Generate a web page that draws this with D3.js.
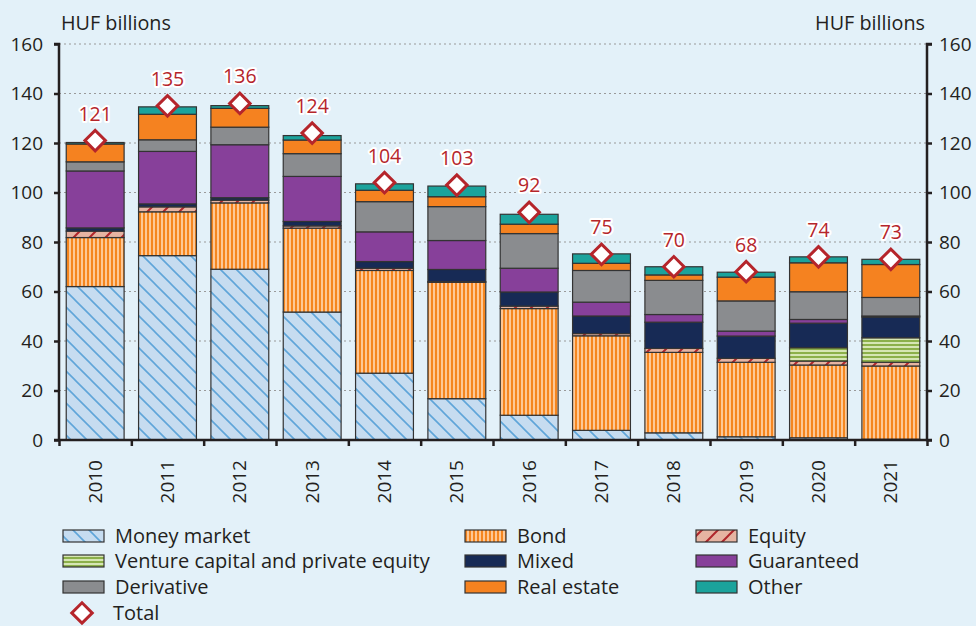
<!DOCTYPE html>
<html>

<head>
    <meta charset="utf-8" />
    <title>Investment funds by type</title>
    <script src="https://cdn.jsdelivr.net/npm/d3@7"></script>

    <style type="text/css">
        body {
            margin: 0;
            background: #e3f1f9;
        }

        #chart svg {
            background: #e3f1f9;
            font-family: "Open Sans", Lato, sans-serif;
        }

        #chart text {
            fill: #231f20;
        }

        #chart .grid line {
            stroke: #9a9a9a;
            stroke-width: 1.2px;
            stroke-dasharray: 2, 3;
        }

        #chart .seg {
            stroke: #333;
            stroke-width: 1.2px;
        }

        #chart .total-label {
            fill: #b5252b;
            stroke: #fff;
            stroke-width: 4px;
            paint-order: stroke;
            stroke-linejoin: round;
        }
    </style>
</head>

<body>

    <div id="chart"></div>

    <script>
        // Data (HUF billions):
        var years = ["2010", "2011", "2012", "2013", "2014", "2015", "2016", "2017", "2018", "2019", "2020", "2021"]

        var moneyMarket = [62, 74.5, 69, 51.7, 27, 16.7, 10, 3.9, 2.9, 1.3, 0.9, 0.3]
        var bond = [19.8, 17.7, 26.8, 33.9, 41.5, 47, 43.1, 38.2, 32.5, 30.1, 29.4, 29.6]
        var equity = [2.6, 2, 1.1, 0.9, 0.9, 0.3, 1, 0.9, 1.6, 1.6, 1.6, 1.5]
        var ventureCapital = [0, 0, 0, 0, 0, 0, 0, 0, 0, 0, 5.4, 9.9]
        var mixed = [1.3, 1.2, 1, 1.8, 2.7, 4.9, 5.7, 7.1, 10.6, 9, 9.9, 8.4]
        var guaranteed = [23, 21.2, 21.4, 18.2, 12, 11.7, 9.6, 5.6, 3.1, 2, 1.5, 0.4]
        var derivative = [3.7, 4.7, 7.1, 9.2, 12.2, 13.7, 14, 12.8, 13.8, 12.2, 11.2, 7.5]
        var realEstate = [7.2, 10.3, 7.6, 5.5, 4.6, 4, 3.8, 2.9, 2.2, 9.6, 11.7, 13.3]
        var other = [0.6, 3, 1.1, 1.8, 2.6, 4.3, 4, 3.8, 3.3, 2, 2.4, 2.1]

        var totals = [121, 135, 136, 124, 104, 103, 92, 75, 70, 68, 74, 73]

        var yTicks = [0, 20, 40, 60, 80, 100, 120, 140, 160]

        var series = [
            { key: "Money market", values: moneyMarket, fill: "url(#pat-mm)" },
            { key: "Venture capital and private equity", values: ventureCapital, fill: "url(#pat-vc)" },
            { key: "Derivative", values: derivative, fill: "#8a8c8f" },
            { key: "Bond", values: bond, fill: "url(#pat-bond)" },
            { key: "Mixed", values: mixed, fill: "#172a55" },
            { key: "Real estate", values: realEstate, fill: "#f58220" },
            { key: "Equity", values: equity, fill: "url(#pat-eq)" },
            { key: "Guaranteed", values: guaranteed, fill: "#87409a" },
            { key: "Other", values: other, fill: "#1ba39c" }
        ]

        // stacking order, bottom to top
        var stackOrder = ["Money market", "Bond", "Equity", "Venture capital and private equity",
            "Mixed", "Guaranteed", "Derivative", "Real estate", "Other"]

        // Dimensions:
        var W = 976, H = 626
        var margin = { top: 44, right: 49, bottom: 186, left: 59 }
        var width = W - margin.left - margin.right
        var height = H - margin.top - margin.bottom

        // Scales:
        var xScale = d3.scaleBand()
            .domain(years)
            .range([0, width])
            .paddingInner(0.2)
            .paddingOuter(0.1)

        var xEdges = d3.scaleLinear()
            .domain([0, years.length])
            .range([0, width])

        var yScale = d3.scaleLinear()
            .domain([0, 160])
            .range([height, 0])

        // Table for stacking:
        var table = years.map(function(y, i) {
            var row = { year: y, total: totals[i] }
            series.forEach(function(s) { row[s.key] = s.values[i] })
            return row
        })

        var stacked = d3.stack().keys(stackOrder)(table)
        var fillOf = {}
        series.forEach(function(s) { fillOf[s.key] = s.fill })

        // Create chart:
        var svg = d3.select("#chart")
            .append("svg")
            .attr("width", W)
            .attr("height", H)

        // Patterns:
        var defs = svg.append("defs")

        var pm = defs.append("pattern").attr("id", "pat-mm")
            .attr("patternUnits", "userSpaceOnUse").attr("width", 16).attr("height", 16)
        pm.append("rect").attr("width", 16).attr("height", 16).attr("fill", "#c6dcf0")
        pm.append("path").attr("d", "M0,0L16,16M-4,12L4,20M12,-4L20,4")
            .attr("stroke", "#5fa5d9").attr("stroke-width", 1.6)

        var pb = defs.append("pattern").attr("id", "pat-bond")
            .attr("patternUnits", "userSpaceOnUse").attr("width", 4).attr("height", 4)
        pb.append("rect").attr("width", 4).attr("height", 4).attr("fill", "#fdc896")
        pb.append("rect").attr("width", 2).attr("height", 4).attr("fill", "#f5861f")

        var pe = defs.append("pattern").attr("id", "pat-eq")
            .attr("patternUnits", "userSpaceOnUse").attr("width", 16).attr("height", 16)
        pe.append("rect").attr("width", 16).attr("height", 16).attr("fill", "#e6b4a2")
        pe.append("path").attr("d", "M0,16L16,0M-4,4L4,-4M12,20L20,12")
            .attr("stroke", "#b0262b").attr("stroke-width", 2)

        var pv = defs.append("pattern").attr("id", "pat-vc")
            .attr("patternUnits", "userSpaceOnUse").attr("width", 4).attr("height", 4)
        pv.append("rect").attr("width", 4).attr("height", 4).attr("fill", "#d6e6b4")
        pv.append("rect").attr("width", 4).attr("height", 2).attr("fill", "#8cb04a")

        var chart = svg.append("g")
            .attr("transform", "translate(" + margin.left + "," + margin.top + ")")

        // Gridlines:
        chart.append("g")
            .attr("class", "grid")
            .selectAll("line")
            .data(yTicks.filter(function(t) { return t > 0 }))
            .enter().append("line")
            .attr("x1", 0)
            .attr("x2", width)
            .attr("y1", function(d) { return yScale(d) })
            .attr("y2", function(d) { return yScale(d) })

        // Bars:
        chart.append("g")
            .selectAll("g")
            .data(stacked)
            .enter().append("g")
            .attr("fill", function(d) { return fillOf[d.key] })
            .selectAll("rect")
            .data(function(d) { return d.filter(function(p) { return p[1] - p[0] > 0 }) })
            .enter().append("rect")
            .attr("class", "seg")
            .attr("x", function(d) { return xScale(d.data.year) })
            .attr("width", xScale.bandwidth())
            .attr("y", function(d) { return yScale(d[1]) })
            .attr("height", function(d) { return yScale(d[0]) - yScale(d[1]) })

        // Axes:
        var leftAxis = chart.append("g")
            .call(d3.axisLeft(yScale).tickValues(yTicks).tickSize(5).tickPadding(11))
        var rightAxis = chart.append("g")
            .attr("transform", "translate(" + width + ",0)")
            .call(d3.axisRight(yScale).tickValues(yTicks).tickSize(5).tickPadding(7))
        var bottomAxis = chart.append("g")
            .attr("transform", "translate(0," + height + ")")
            .call(d3.axisBottom(xEdges).tickValues(d3.range(0, years.length + 1)).tickSize(6).tickFormat(""))

        ;[leftAxis, rightAxis, bottomAxis].forEach(function(a) {
            a.select(".domain").attr("stroke", "#231f20").attr("stroke-width", 2.5)
            a.selectAll(".tick line").attr("stroke", "#231f20").attr("stroke-width", 2.5)
            a.selectAll("text").attr("font-size", 19).attr("font-family", "'Open Sans', sans-serif").attr("fill", "#231f20")
        })
        leftAxis.select(".domain").attr("d", "M-5," + height + "H0V0H-5")
        rightAxis.select(".domain").attr("d", "M5," + height + "H0V0H5")
        bottomAxis.select(".domain").attr("d", "M0,0H" + width)

        // Year labels:
        chart.append("g")
            .selectAll("text")
            .data(years)
            .enter().append("text")
            .attr("transform", function(d) {
                return "translate(" + (xScale(d) + xScale.bandwidth() / 2) + "," + (height + 20) + ") rotate(-90)"
            })
            .attr("text-anchor", "end")
            .attr("dy", "0.35em")
            .attr("font-size", 19)
            .text(function(d) { return d })

        // Unit labels:
        svg.append("text").attr("x", 61).attr("y", 30).attr("font-size", 19.8).text("HUF billions")
        svg.append("text").attr("x", 925).attr("y", 30).attr("font-size", 19.8)
            .attr("text-anchor", "end").text("HUF billions")

        // Totals:
        var diamond = d3.symbol().type(d3.symbolSquare).size(210)
        chart.append("g")
            .selectAll("path")
            .data(table)
            .enter().append("path")
            .attr("d", diamond)
            .attr("transform", function(d) {
                return "translate(" + (xScale(d.year) + xScale.bandwidth() / 2) + "," + yScale(d.total) + ") rotate(45)"
            })
            .attr("fill", "#fff")
            .attr("stroke", "#b5252b")
            .attr("stroke-width", 3)

        chart.append("g")
            .selectAll("text")
            .data(table)
            .enter().append("text")
            .attr("class", "total-label")
            .attr("x", function(d) { return xScale(d.year) + xScale.bandwidth() / 2 })
            .attr("y", function(d) { return yScale(d.total) - 20 })
            .attr("text-anchor", "middle")
            .attr("font-size", 19.5)
            .text(function(d) { return d.total })

        // Legend:
        var legendCols = [63, 465, 696]
        var legendRows = [536, 561, 587]
        var legend = svg.append("g")
        series.forEach(function(s, i) {
            var col = Math.floor(i / 3), row = i % 3
            var g = legend.append("g")
                .attr("transform", "translate(" + legendCols[col] + "," + legendRows[row] + ")")
            g.append("rect")
                .attr("class", "seg")
                .attr("x", 0).attr("y", -6)
                .attr("width", 41).attr("height", 12)
                .attr("fill", s.fill)
            g.append("text")
                .attr("x", 52).attr("dy", "0.35em")
                .attr("font-size", 20)
                .text(s.key)
        })
        var tg = legend.append("g").attr("transform", "translate(82,613)")
        tg.append("path").attr("d", diamond).attr("transform", "rotate(45)")
            .attr("fill", "#fff").attr("stroke", "#b5252b").attr("stroke-width", 3)
        tg.append("text").attr("x", 31).attr("dy", "0.35em").attr("font-size", 20).text("Total")
    </script>

</body>

</html>
